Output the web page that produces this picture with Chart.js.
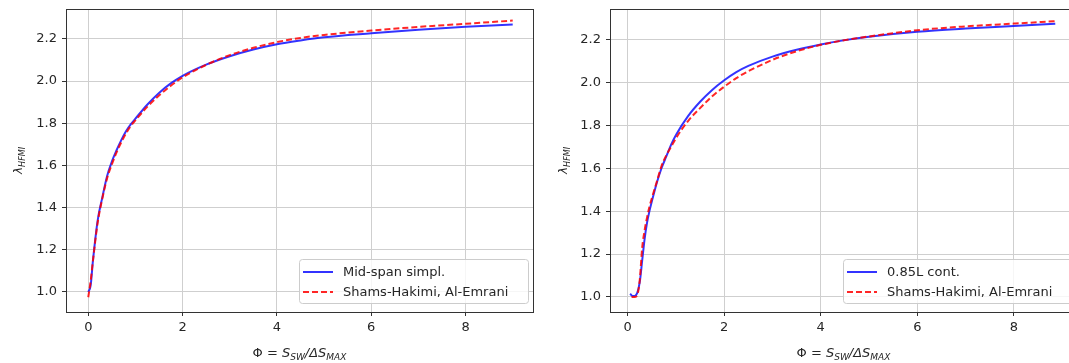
<!DOCTYPE html>
<html>
<head>
<meta charset="utf-8">
<script src="https://cdn.jsdelivr.net/npm/chart.js@4"></script>
<style>
  html, body { margin: 0; padding: 0; background: #fff; overflow: hidden; width: 1069px; height: 363px; }
  #left { position: absolute; left: 0; top: 0; }
  #right { position: absolute; left: 545px; top: 0; }
</style>
</head>
<body>
<canvas id="left" width="545" height="363"></canvas>
<canvas id="right" width="545" height="363"></canvas>
<script>
// --- data ---
const xTicks = [0, 2, 4, 6, 8];
const yTicks = [1.0, 1.2, 1.4, 1.6, 1.8, 2.0, 2.2];

// left panel
const midSpanX = [0, 0.05, 0.1, 0.2, 0.3, 0.4, 0.5, 0.6, 0.7, 0.8, 0.9, 1.0, 1.25, 1.5, 1.75, 2.0, 2.5, 3.0, 3.5, 4.0, 4.5, 5.0, 6.0, 7.0, 8.0, 9.0];
const midSpanY = [1.00, 1.03, 1.15, 1.34, 1.45, 1.55, 1.618, 1.672, 1.72, 1.762, 1.795, 1.822, 1.888, 1.944, 1.989, 2.025, 2.078, 2.118, 2.15, 2.175, 2.193, 2.208, 2.227, 2.244, 2.258, 2.268];
const shamsLeftX = midSpanX;
const shamsLeftY = [0.975, 1.05, 1.15, 1.33, 1.445, 1.54, 1.605, 1.662, 1.71, 1.752, 1.787, 1.814, 1.878, 1.932, 1.978, 2.018, 2.077, 2.123, 2.158, 2.185, 2.205, 2.219, 2.24, 2.257, 2.272, 2.287];

// right panel
const contX = [0.05, 0.1, 0.15, 0.2, 0.25, 0.3, 0.35, 0.4, 0.45, 0.5, 0.6, 0.7, 0.8, 0.9, 1.0, 1.25, 1.5, 1.75, 2.0, 2.25, 2.5, 3.0, 3.5, 4.0, 4.5, 5.0, 6.0, 7.0, 8.0, 8.86];
const contY = [1.015, 1.004, 1.005, 1.02, 1.07, 1.17, 1.27, 1.345, 1.40, 1.445, 1.53, 1.60, 1.655, 1.71, 1.755, 1.843, 1.91, 1.965, 2.01, 2.048, 2.077, 2.12, 2.152, 2.177, 2.197, 2.213, 2.236, 2.251, 2.263, 2.273];
const shamsRightX = [0.08, 0.15, 0.2, 0.25, 0.3, 0.35, 0.4, 0.45, 0.5, 0.6, 0.7, 0.8, 0.9, 1.0, 1.25, 1.5, 1.75, 2.0, 2.25, 2.5, 3.0, 3.5, 4.0, 4.5, 5.0, 6.0, 7.0, 8.0, 8.86];
const shamsRightY = [1.0, 1.0, 1.01, 1.08, 1.23, 1.31, 1.37, 1.42, 1.46, 1.535, 1.61, 1.66, 1.70, 1.74, 1.82, 1.88, 1.935, 1.98, 2.02, 2.052, 2.105, 2.145, 2.175, 2.197, 2.214, 2.243, 2.261, 2.274, 2.285];

const FONT = "'DejaVu Sans', sans-serif";
const BLUE = 'rgba(0, 0, 255, 0.8)';
const RED = 'rgba(255, 0, 0, 0.85)';

function pts(xs, ys) {
  return xs.map((x, i) => ({ x: x, y: ys[i] }));
}

// draws a run of text pieces with different fonts / baseline shifts
function richWidth(ctx, parts) {
  let w = 0;
  parts.forEach(p => { ctx.font = p.font; w += ctx.measureText(p.t).width; });
  return w;
}
function drawRich(ctx, parts, x, y) {
  let cx = x;
  parts.forEach(p => {
    ctx.font = p.font;
    ctx.fillText(p.t, cx, y + (p.dy || 0));
    cx += ctx.measureText(p.t).width;
  });
}

const xLabel = [
  { t: 'Φ = ', font: '13px ' + FONT },
  { t: 'S', font: 'italic 13px ' + FONT },
  { t: 'SW', font: 'italic 9px ' + FONT, dy: 3 },
  { t: '/Δ', font: 'italic 13px ' + FONT },
  { t: 'S', font: 'italic 13px ' + FONT },
  { t: 'MAX', font: 'italic 9px ' + FONT, dy: 3 }
];
const yLabel = [
  { t: 'λ', font: 'italic 12px ' + FONT },
  { t: 'HFMI', font: 'italic 8px ' + FONT, dy: 3 }
];

// frame, axis titles and the matplotlib-like legend
const decorations = {
  id: 'decorations',
  afterDraw(chart) {
    const ctx = chart.ctx;
    const a = chart.chartArea;
    ctx.save();
    ctx.strokeStyle = '#333';
    ctx.lineWidth = 1;
    ctx.strokeRect(Math.round(a.left) + 0.5, Math.round(a.top) + 0.5, Math.round(a.right - a.left), Math.round(a.bottom - a.top));

    ctx.fillStyle = '#262626';
    ctx.textBaseline = 'alphabetic';
    const w = richWidth(ctx, xLabel);
    drawRich(ctx, xLabel, (a.left + a.right) / 2 - w / 2, 357);

    ctx.save();
    ctx.translate(22, (a.top + a.bottom) / 2);
    ctx.rotate(-Math.PI / 2);
    const wy = richWidth(ctx, yLabel);
    drawRich(ctx, yLabel, -wy / 2, 0);
    ctx.restore();

    // legend
    const bw = 229, bh = 44;
    const bx = a.right - 5 - bw, by = a.bottom - 9 - bh;
    ctx.fillStyle = 'rgba(255,255,255,0.8)';
    ctx.strokeStyle = '#cccccc';
    ctx.beginPath();
    ctx.roundRect(bx + 0.5, by + 0.5, bw, bh, 3);
    ctx.fill();
    ctx.stroke();
    chart.data.datasets.forEach((ds, i) => {
      const ry = by + 13 + i * 20;
      ctx.strokeStyle = ds.borderColor;
      ctx.lineWidth = 2;
      ctx.setLineDash(ds.borderDash || []);
      ctx.beginPath();
      ctx.moveTo(bx + 4, ry);
      ctx.lineTo(bx + 34, ry);
      ctx.stroke();
      ctx.setLineDash([]);
      ctx.fillStyle = '#262626';
      ctx.font = '13px ' + FONT;
      ctx.textBaseline = 'middle';
      ctx.fillText(ds.label, bx + 44, ry + 1);
    });
    ctx.restore();
  }
};

function makeChart(id, series, xr, yr, yWidth, padRight) {
  return new Chart(document.getElementById(id), {
    type: 'line',
    data: {
      datasets: series.map(s => ({
        label: s.label,
        data: pts(s.x, s.y),
        borderColor: s.color,
        borderDash: s.dash,
        borderWidth: 2,
        pointRadius: 0,
        cubicInterpolationMode: 'monotone',
        fill: false,
        order: s.order
      }))
    },
    options: {
      responsive: false,
      animation: false,
      devicePixelRatio: 1,
      layout: { padding: { top: 9, right: padRight, left: 0, bottom: 0 } },
      plugins: { legend: { display: false }, tooltip: { enabled: false } },
      scales: {
        x: {
          type: 'linear',
          min: xr[0], max: xr[1],
          afterBuildTicks: s => { s.ticks = xTicks.map(v => ({ value: v })); },
          afterFit: s => { s.height = 51; s.paddingLeft = 0; s.paddingRight = 0; },
          grid: { color: '#cfcfcf', lineWidth: 1, tickColor: '#333', tickLength: 4 },
          border: { color: '#333' },
          ticks: { font: { family: FONT, size: 13 }, color: '#262626', padding: 4, maxRotation: 0, callback: v => String(v) }
        },
        y: {
          min: yr[0], max: yr[1],
          afterBuildTicks: s => { s.ticks = yTicks.map(v => ({ value: v })); },
          afterFit: s => { s.width = yWidth; s.paddingTop = 0; s.paddingBottom = 0; },
          grid: { color: '#cfcfcf', lineWidth: 1, tickColor: '#333', tickLength: 4 },
          border: { color: '#333' },
          ticks: { font: { family: FONT, size: 13 }, color: '#262626', padding: 5, callback: v => v.toFixed(1) }
        }
      }
    },
    plugins: [decorations]
  });
}

makeChart('left', [
  { label: 'Mid-span simpl.', x: midSpanX, y: midSpanY, color: BLUE, order: 2 },
  { label: 'Shams-Hakimi, Al-Emrani', x: shamsLeftX, y: shamsLeftY, color: RED, dash: [6, 3], order: 1 }
], [-0.472, 9.43], [0.905, 2.342], 66, 12);

makeChart('right', [
  { label: '0.85L cont.', x: contX, y: contY, color: BLUE, order: 2 },
  { label: 'Shams-Hakimi, Al-Emrani', x: shamsRightX, y: shamsRightY, color: RED, dash: [6, 3], order: 1 }
], [-0.367, 9.31], [0.930, 2.342], 65, 13);
</script>
</body>
</html>
